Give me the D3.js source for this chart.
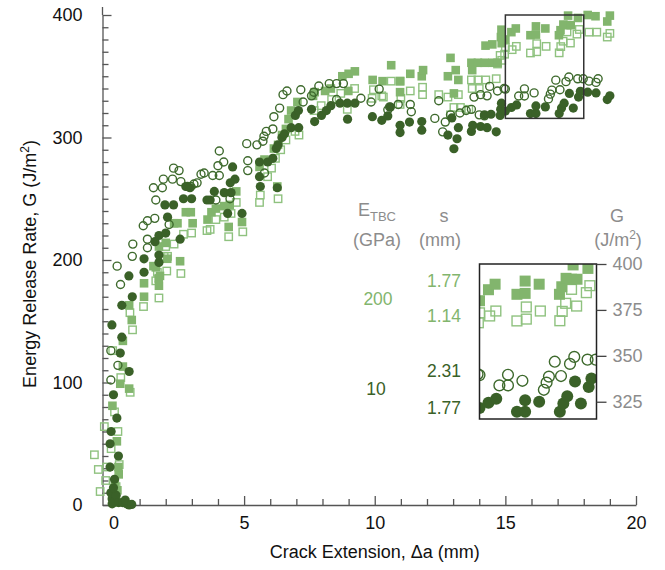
<!DOCTYPE html>
<html>
<head>
<meta charset="utf-8">
<script src="https://cdn.jsdelivr.net/npm/d3@7"></script>
<style>
  body { margin: 0; background: #fff; }
  text { font-family: "Liberation Sans", Arial, Helvetica, sans-serif; }
</style>
</head>
<body>
<svg id="chart" width="665" height="570"></svg>
<script>
// Crack extension (mm), energy release rate (J/m^2) pairs for each coating case.

// E_TBC = 200 GPa, s = 1.77 mm  (filled squares)
const e200s177 = [
  [0.0,2],[0.1,5],[-0.05,8],[0.15,12],[0.05,18],[0.2,25],[0.19,31],[0.13,52],[-0.04,81],
  [0.26,99],[0.6,95],[0.36,113],[0.36,134],[0.7,151],[0.6,163],[1.17,170],[1.17,181],
  [1.74,179],[1.73,185],[1.53,195],[1.78,187],[1.62,194],[1.74,211],[2.0,214],[2.06,201],
  [2.55,199],[2.32,230],[2.45,230],[2.77,239],[2.96,239],[3.03,230],[3.6,233],[3.75,239],
  [3.92,242],[4.41,227],[4.24,244],[4.45,245],[4.7,256],[4.92,231],[5.59,276],[5.78,282],
  [6.27,260],[6.14,291],[6.3,294],[6.45,302],[6.6,307],[6.7,315],[6.8,322],[7.04,329],
  [7.64,334],[7.7,337],[8.1,338],[8.32,340],[8.76,350],[9.0,352],[9.24,354],[8.99,338],
  [9.92,347],[10.3,346],[10.63,359],[10.97,337],[10.97,346],[11.36,352],[11.8,350],
  [11.85,355],[12.9,365],[12.8,350],[13.1,355],[13.2,347],[13.03,336],[13.7,361],
  [13.95,361],[14.2,361],[14.5,361],[13.73,355],[14.7,361],[14.24,375],[14.5,376],
  [14.86,377],[14.83,382],[14.85,388],
  [15.0,380],[15.23,386],[15.4,389],[15.96,383.5],[16.17,384],[16.17,390.7],[16.53,389],
  [17.05,383.5],[17.11,387.6],[17.22,392.2],[17.36,391.7],[17.5,391.7],[17.4,399.5],[17.78,397.6],
  [18.15,400],[18.45,399],[18.9,394.7],[19.0,399.5]
];

// E_TBC = 200 GPa, s = 1.14 mm  (open squares)
const e200s114 = [
  [-0.51,11],[-0.58,29],[-0.73,41],[-0.26,31],[-0.09,46],[0.17,60],[-0.35,64],[0.04,76],
  [0.22,33],[0.0,5],[0.1,15],[-0.3,20],[0.64,92],[0.28,104],[-0.03,126],[0.73,143],
  [0.63,157],[1.15,162],[1.74,169],[1.62,183],[1.68,190],[2.04,191],[1.94,203],[2.07,203],
  [2.0,211],[2.32,213],[2.58,189],[2.68,221],[2.99,222],[3.58,224],[3.7,225],[3.92,233],
  [4.41,219],[4.24,235],[4.5,238],[4.7,247],[4.95,223],[5.59,247],[5.62,253],[6.3,250],
  [5.9,268],[6.05,275],[6.2,283],[6.4,290],[6.6,298],[6.95,305],[7.1,302],[7.68,322],
  [7.95,326],[8.35,331],[8.7,336],[8.95,323],[9.23,340],[9.9,332],[10.27,334],[9.95,339],
  [10.33,333],[10.63,346],[10.97,346],[10.97,327],[11.0,332],[11.36,338],[11.83,335],
  [11.83,341],[12.45,335],[12.8,333],[13.2,335],[12.9,318.5],[13.03,324.5],[13.28,324.5],
  [13.6,323],[13.7,347],[13.95,347],[14.25,347],[14.65,348],[13.73,340],[14.0,340],
  [14.7,360],[14.86,363],[14.8,367],[14.97,368],
  [15.0,373.4],[15.26,371.7],[15.42,374.4],[15.96,369],[16.2,370],[16.2,376.6],[16.56,374.4],
  [17.06,369.1],[17.12,374.2],[17.21,378.6],[17.49,377.1],[17.36,386.2],[17.74,384.4],[17.83,388.2],
  [18.2,386],[18.5,386],[18.9,382],[19.0,385]
];

// E_TBC = 10 GPa, s = 2.31 mm  (open circles)
const e10s231 = [
  [-0.1,102],[0.17,114],[-0.1,126],[0.27,180],[0.14,195],[0.72,203],[0.74,213],[1.3,210],
  [1.3,217],[1.14,228],[1.3,232],[1.58,234],[1.62,249],[1.53,259],[1.87,259],[1.91,266],
  [2.26,266],[2.3,275],[2.51,273],[2.58,264],[2.13,229],[2.83,260],[2.96,260],[3.08,262],
  [3.2,263],[3.35,270],[3.47,271],[3.8,269],[4.05,269],[4.0,277],[4.22,280],[4.05,289],
  [3.92,249],[4.46,250],[5.14,281],[5.14,273],[5.1,295],[5.49,294],[5.72,297],[5.78,271],
  [5.76,301],[5.85,305],[6.1,307],[6.14,317],[6.36,324],[6.49,335],[6.64,338],[7.17,339],
  [7.26,329],[7.58,334],[7.67,337],[7.86,342],[8.26,344],[8.54,344],[8.8,344],[8.54,331],
  [9.47,332],[9.86,329],[10.17,339.5],[10.57,325],[10.5,322.6],[10.9,327],[11.36,327],
  [11.4,321],[12.3,315.6],[12.45,330],[12.6,304.6],[12.7,312.6],[12.9,318.5],[13.26,320],
  [13.5,322],[13.7,323],[14.0,318.5],[14.2,317.7],[13.8,333],[14.05,335],[14.3,334],
  [14.4,341.7],[14.7,338],[14.95,340],
  [15.0,339.5],[15.51,333.9],[15.73,333.9],[15.73,339.7],[16.1,336.4],[16.65,331.5],[16.72,335.4],
  [16.78,338.7],[16.93,346.8],[17.09,339],[17.32,345.6],[17.43,349.4],[17.77,347.9],[17.98,347.9],
  [18.2,346],[18.47,345],[18.55,348]
];

// E_TBC = 10 GPa, s = 1.77 mm  (filled circles)
const e10s177 = [
  [-0.05,5],[0.05,3],[-0.1,10],[0.1,8],[0.0,14],[-0.05,1],[0.2,2],[0.35,2],[0.5,1],
  [0.6,0],[0.45,4],[0.7,0.5],[0.04,21],[-0.13,31],[0.19,40],[-0.13,50],[-0.09,60],
  [0.13,71],[0.0,90],[0.6,109],[0.26,124],[0.32,137],[-0.06,147],[0.32,163],[0.72,170],
  [0.59,187],[1.17,190],[1.17,201],[1.74,198],[1.74,204],[1.59,215],[1.74,220],[2.0,222],
  [2.55,217],[2.07,235],[1.97,245],[2.3,245],[2.68,250],[2.99,250],[2.77,260],[2.93,259],
  [3.58,249],[3.7,249],[3.86,256],[4.24,255],[4.5,255],[4.37,238],[4.92,238],[4.47,263],
  [4.65,266],[4.56,276],[5.59,280],[5.59,268],[5.62,260],[6.27,259],[5.9,280],[6.1,283],
  [6.23,291],[6.3,294],[6.45,300],[6.55,303],[6.8,308],[6.96,318],[7.08,322],[7.09,308],
  [7.58,323],[7.7,313],[7.96,318],[8.15,322],[8.32,326],[8.67,328],[8.95,328],[9.24,328],
  [8.96,315],[9.91,317],[10.27,314],[10.5,317.6],[10.6,324.8],[10.97,304],[10.97,310],
  [11.33,312.6],[11.8,306],[11.8,313],[12.8,302],[12.95,316],[13.03,290.8],[13.15,299],
  [13.2,308],[13.7,305],[13.75,310],[14.05,309],[14.3,308],[14.65,304.6],[14.2,318.5],
  [14.45,319],[14.8,318],[14.82,323],[14.85,328],
  [15.0,321.6],[15.23,324.5],[15.43,326.6],[15.96,319.5],[16.17,319.5],[16.17,325.8],[16.53,325],
  [17.06,319.5],[17.15,324],[17.25,328],[17.45,336],[17.6,324],[17.8,333],[17.87,337.7],
  [18.15,337],[18.47,336.4],[18.9,331],[19.0,334]
];

const xTicks = [0, 5, 10, 15, 20];
const yTicks = [0, 100, 200, 300, 400];
const insetTicks = [325, 350, 375, 400];
const zoomX = [15, 18];        // magnified window, crack extension (mm)
const zoomG = [315.6, 400];    // magnified window, G (J/m^2)

const cLight = "#82b56d", cLightOpen = "#8fc27f", cDark = "#3a6128", cDarkOpen = "#3e6a2d";
const gray = "#8c8c8c", axisCol = "#555";

const series = [
  { data: e200s114, shape: "square", fill: "none", stroke: cLightOpen },
  { data: e200s177, shape: "square", fill: cLight, stroke: "none" },
  { data: e10s231,  shape: "circle", fill: "none", stroke: cDarkOpen },
  { data: e10s177,  shape: "circle", fill: cDark, stroke: "none" }
];

const svg = d3.select("#chart");

const x = d3.scaleLinear().domain([-0.42, 20]).range([102.5, 636]);
const y = d3.scaleLinear().domain([0, 400]).range([505, 15]);

// ---- axes (ticks point into the plot) ----
svg.append("g").attr("transform", `translate(0,${y(0)})`)
  .call(d3.axisBottom(x).tickValues(xTicks).tickSize(-9).tickSizeOuter(0).tickPadding(11));
svg.append("g").attr("transform", `translate(0,${y(0)})`)
  .call(d3.axisBottom(x).tickValues(d3.range(1, 20).filter(v => v % 5)).tickSize(-6).tickFormat(""))
  .call(g => g.select(".domain").remove());

svg.append("g").attr("transform", `translate(${x.range()[0]},0)`)
  .call(d3.axisLeft(y).tickValues(yTicks).tickSize(-9).tickSizeOuter(0).tickPadding(20));
svg.append("g").attr("transform", `translate(${x.range()[0]},0)`)
  .call(d3.axisLeft(y).tickValues(d3.range(10, 400, 10).filter(v => v % 100)).tickSize(-6).tickFormat(""))
  .call(g => g.select(".domain").remove());
// the vertical axis line runs a little past the top tick
svg.append("line").attr("x1", x.range()[0]).attr("x2", x.range()[0])
  .attr("y1", y(400) - 8).attr("y2", y(400));

svg.selectAll(".domain, .tick line, line").attr("stroke", axisCol).attr("stroke-width", 1.3);
svg.selectAll(".tick text").attr("fill", "#111").attr("font-size", 18)
  .attr("font-family", '"Liberation Sans", Arial, sans-serif');

// axis titles
svg.append("text")
  .attr("transform", `translate(36,${(y(0) + y(400)) / 2 + 4}) rotate(-90)`)
  .attr("text-anchor", "middle").attr("font-size", 18).attr("fill", "#111")
  .call(t => {
    t.append("tspan").text("Energy Release Rate, G (J/m");
    t.append("tspan").text("2").attr("font-size", 12).attr("dy", -7);
    t.append("tspan").text(")").attr("dy", 7);
  });
svg.append("text")
  .attr("x", (x(0) + x(20)) / 2).attr("y", 558)
  .attr("text-anchor", "middle").attr("font-size", 18).attr("fill", "#111")
  .text("Crack Extension, \u0394a (mm)");

// ---- markers ----
function drawMarkers(g, sx, sy, r, side) {
  series.forEach(s => {
    const sel = g.append("g").selectAll("path").data(s.data).join(s.shape === "circle" ? "circle" : "rect");
    if (s.shape === "circle") {
      sel.attr("cx", d => sx(d[0])).attr("cy", d => sy(d[1])).attr("r", s.fill === "none" ? r - 0.6 : r);
    } else {
      const w = s.fill === "none" ? side - 1.2 : side;
      sel.attr("x", d => sx(d[0]) - w / 2).attr("y", d => sy(d[1]) - w / 2).attr("width", w).attr("height", w);
    }
    sel.attr("fill", s.fill).attr("stroke", s.stroke).attr("stroke-width", 1.4);
  });
}
drawMarkers(svg.append("g"), x, y, 4.6, 8.6);

// magnified-window outline in the main plot
svg.append("rect")
  .attr("x", x(zoomX[0])).attr("y", y(zoomG[1]))
  .attr("width", x(zoomX[1]) - x(zoomX[0])).attr("height", y(zoomG[0]) - y(zoomG[1]))
  .attr("fill", "none").attr("stroke", "#333").attr("stroke-width", 1.5);

// ---- inset ----
const ix = d3.scaleLinear().domain(zoomX).range([479.5, 596.5]);
const iy = d3.scaleLinear().domain(zoomG).range([419, 264]);

svg.append("defs").append("clipPath").attr("id", "insetClip")
  .append("rect").attr("x", ix.range()[0]).attr("y", iy.range()[1])
  .attr("width", ix.range()[1] - ix.range()[0]).attr("height", iy.range()[0] - iy.range()[1]);

svg.append("rect").attr("x", ix.range()[0]).attr("y", iy.range()[1])
  .attr("width", ix.range()[1] - ix.range()[0]).attr("height", iy.range()[0] - iy.range()[1])
  .attr("fill", "#fff");
drawMarkers(svg.append("g").attr("clip-path", "url(#insetClip)"), ix, iy, 6, 11);
svg.append("rect").attr("x", ix.range()[0]).attr("y", iy.range()[1])
  .attr("width", ix.range()[1] - ix.range()[0]).attr("height", iy.range()[0] - iy.range()[1])
  .attr("fill", "none").attr("stroke", "#222").attr("stroke-width", 1.5);

const iAxis = svg.append("g").attr("transform", `translate(${ix.range()[1]},0)`)
  .call(d3.axisRight(iy).tickValues(insetTicks).tickSize(10).tickPadding(6));
iAxis.select(".domain").remove();
iAxis.selectAll(".tick line").attr("stroke", "#444").attr("stroke-width", 1.3);
iAxis.selectAll(".tick text").attr("fill", gray).attr("font-size", 18)
  .attr("font-family", '"Liberation Sans", Arial, sans-serif');

// ---- legend table ----
const leg = svg.append("g").attr("font-size", 18).attr("text-anchor", "middle");
leg.append("text").attr("x", 377).attr("y", 216).attr("fill", gray)
  .call(t => {
    t.append("tspan").text("E");
    t.append("tspan").text("TBC").attr("font-size", 13).attr("dy", 5);
  });
leg.append("text").attr("x", 377).attr("y", 246).attr("fill", gray).text("(GPa)");
leg.append("text").attr("x", 444).attr("y", 222).attr("fill", gray).text("s");
leg.append("text").attr("x", 440).attr("y", 246).attr("fill", gray).text("(mm)");
leg.append("text").attr("x", 617).attr("y", 222).attr("fill", gray).text("G");
leg.append("text").attr("x", 618).attr("y", 246).attr("fill", gray)
  .call(t => {
    t.append("tspan").text("(J/m");
    t.append("tspan").text("2").attr("font-size", 12).attr("dy", -7);
    t.append("tspan").text(")").attr("dy", 7);
  });

const legRows = [
  { label: "200", lx: 378, ly: 305, color: cLight },
  { label: "1.77", lx: 444, ly: 287, color: cLight },
  { label: "1.14", lx: 444, ly: 322, color: cLight },
  { label: "10", lx: 376, ly: 395, color: cDark },
  { label: "2.31", lx: 444, ly: 377, color: cDark },
  { label: "1.77", lx: 444, ly: 414, color: cDark }
];
leg.selectAll("text.row").data(legRows).join("text").attr("class", "row")
  .attr("x", d => d.lx).attr("y", d => d.ly).attr("fill", d => d.color).attr("font-size", 17.5)
  .text(d => d.label);
</script>
</body>
</html>
